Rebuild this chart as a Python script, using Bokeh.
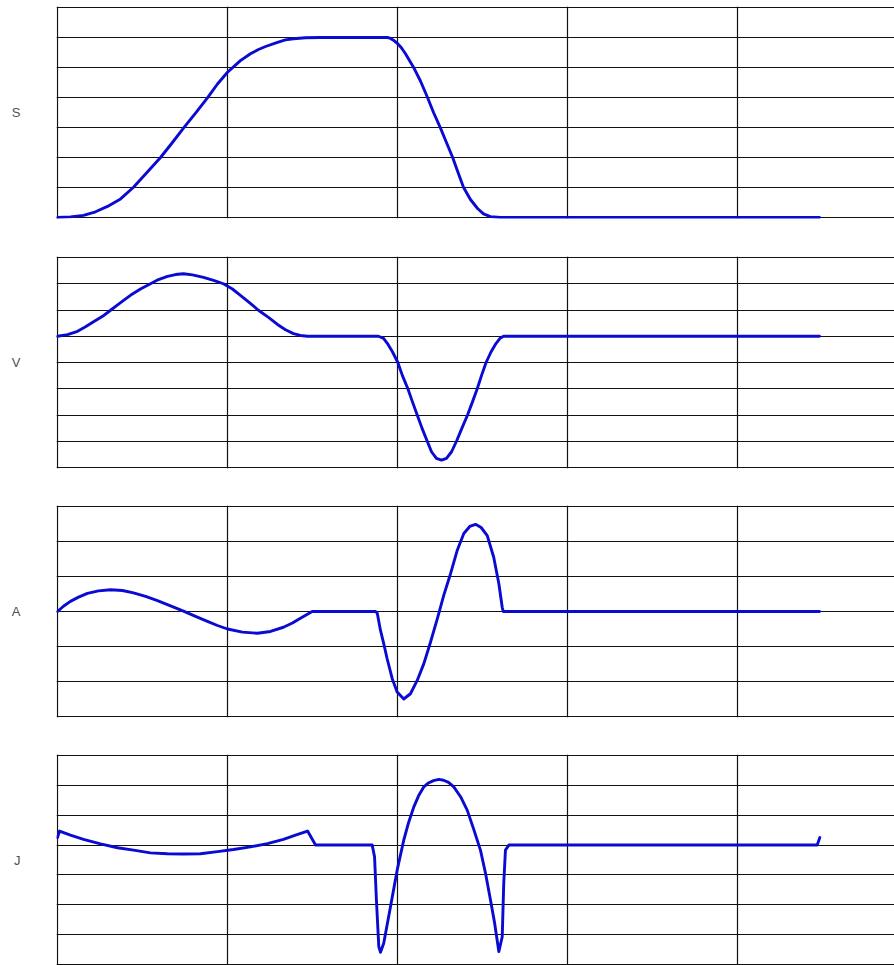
from bokeh.plotting import figure
from bokeh.layouts import column
from bokeh.models import FixedTicker, CustomJSTickFormatter
from bokeh.embed import file_html
from bokeh.resources import INLINE

# time in grid divisions (one vertical grid cell = 1)
s_t = [0.000, 0.076, 0.153, 0.224, 0.294, 0.371, 0.447, 0.518, 0.606, 0.676, 0.741, 0.812, 0.882,
       0.941, 1.000, 1.076, 1.135, 1.182, 1.224, 1.294, 1.341, 1.388, 1.459, 1.547, 1.941, 1.959,
       1.976, 2.000, 2.024, 2.047, 2.094, 2.135, 2.176, 2.212, 2.253, 2.288, 2.324, 2.353, 2.388,
       2.429, 2.471, 2.506, 2.547, 2.606, 4.482]
s_val = [0.0, 0.02, 0.07, 0.19, 0.37, 0.62, 1.01, 1.45, 2.0, 2.5, 2.98, 3.48, 3.99,
         4.45, 4.84, 5.23, 5.46, 5.6, 5.7, 5.84, 5.92, 5.96, 5.99, 6.0, 6.0, 5.97,
         5.91, 5.8, 5.65, 5.46, 5.01, 4.55, 4.01, 3.5, 2.98, 2.5, 2.01, 1.55, 1.01,
         0.6, 0.3, 0.12, 0.03, 0.0, 0.0]

v_t = [0.000, 0.059, 0.118, 0.165, 0.212, 0.265, 0.312, 0.371, 0.429, 0.488, 0.547, 0.594, 0.647,
       0.694, 0.741, 0.794, 0.859, 0.918, 0.976, 1.029, 1.076, 1.129, 1.182, 1.241, 1.294, 1.341,
       1.388, 1.429, 1.471, 1.888, 1.918, 1.941, 1.971, 2.002, 2.029, 2.061, 2.088, 2.116, 2.144,
       2.175, 2.200, 2.229, 2.259, 2.288, 2.318, 2.347, 2.379, 2.412, 2.441, 2.469, 2.494, 2.521,
       2.550, 2.579, 2.603, 2.624, 4.482]
v_val = [0.0, 0.06, 0.19, 0.36, 0.55, 0.76, 0.99, 1.28, 1.56, 1.8, 2.0, 2.16, 2.28,
         2.35, 2.38, 2.34, 2.24, 2.13, 2.0, 1.8, 1.56, 1.28, 0.99, 0.72, 0.45, 0.25,
         0.1, 0.03, 0.0, 0.0, -0.08, -0.28, -0.6, -1.0, -1.5, -2.0, -2.5, -3.0, -3.5,
         -4.0, -4.4, -4.65, -4.72, -4.65, -4.4, -4.0, -3.5, -3.0, -2.5, -2.0, -1.5, -1.0,
         -0.6, -0.28, -0.08, 0.0, 0.0]

a_t = [0.000, 0.035, 0.076, 0.124, 0.176, 0.241, 0.312, 0.382, 0.447, 0.518, 0.588, 0.665, 0.741,
       0.812, 0.882, 0.941, 1.000, 1.088, 1.176, 1.253, 1.329, 1.382, 1.429, 1.465, 1.498, 1.871,
       1.881, 1.900, 1.919, 1.939, 1.969, 1.998, 2.037, 2.076, 2.116, 2.155, 2.194, 2.234, 2.272,
       2.312, 2.351, 2.390, 2.425, 2.459, 2.492, 2.528, 2.566, 2.596, 2.616, 2.622, 4.482]
a_val = [0.0, 0.15, 0.29, 0.41, 0.52, 0.59, 0.62, 0.6, 0.53, 0.43, 0.31, 0.16, 0.01,
         -0.14, -0.28, -0.4, -0.5, -0.59, -0.62, -0.57, -0.45, -0.33, -0.19, -0.09, 0.0, 0.0,
         -0.05, -0.54, -0.92, -1.35, -1.92, -2.3, -2.5, -2.35, -1.97, -1.49, -0.88, -0.21, 0.46,
         1.08, 1.74, 2.23, 2.43, 2.49, 2.4, 2.17, 1.55, 0.8, 0.12, 0.0, 0.0]

j_t = [0.000, 0.012, 0.076, 0.153, 0.253, 0.353, 0.447, 0.547, 0.647, 0.741, 0.841, 0.941, 1.035,
       1.135, 1.235, 1.329, 1.400, 1.471, 1.518, 1.851, 1.865, 1.876, 1.890, 1.900, 1.919, 1.959,
       1.998, 2.037, 2.065, 2.096, 2.124, 2.155, 2.182, 2.212, 2.243, 2.271, 2.300, 2.331, 2.371,
       2.410, 2.447, 2.488, 2.518, 2.547, 2.571, 2.596, 2.616, 2.625, 2.635, 2.655, 4.469, 4.484]
j_val = [0.25, 0.47, 0.33, 0.19, 0.04, -0.09, -0.17, -0.26, -0.29, -0.30, -0.29, -0.22, -0.15,
         -0.06, 0.05, 0.19, 0.33, 0.47, 0.0, 0.0, -0.39, -1.84, -3.4, -3.59, -3.29, -2.06,
         -0.84, 0.17, 0.75, 1.28, 1.65, 1.95, 2.08, 2.16, 2.2, 2.17, 2.1, 1.95, 1.62,
         1.17, 0.55, -0.17, -0.95, -1.84, -2.6, -3.57, -3.07, -1.28, -0.17, 0.0, 0.0, 0.25]

names = ["S", "V", "A", "J"]
y_lims = [(0, 7), (-5, 3), (-3, 3), (-4, 3)]
x_divisions = [0, 1, 2, 3, 4]

# layout (pixels): inner grid height, top border, bottom border for each panel
inner_heights = [210, 210, 210, 209]
top_borders = [6, 0, 0, 0]
bottom_borders = [38, 37, 37, 0]

CELL_W = 170.0
FRAME_LEFT = 56
FIG_W = 894


def make_panel(name, t, vals, lims, inner_h, top_b, bot_b):
    ymin, ymax = lims
    eps_y = (ymax - ymin) / inner_h          # one pixel in data units
    eps_x = 1.0 / CELL_W
    frame_h = inner_h + 2
    x_end = -eps_x + (FIG_W - FRAME_LEFT) / CELL_W
    p = figure(width=FIG_W, height=frame_h + top_b + bot_b, title=None,
               x_range=(-eps_x, x_end), y_range=(ymin - eps_y, ymax + eps_y),
               output_backend="svg", toolbar_location=None,
               min_border_left=FRAME_LEFT, min_border_right=0, min_border_top=top_b,
               min_border_bottom=bot_b, outline_line_color=None,
               background_fill_color="white", border_fill_color="white")
    p.xaxis.visible = False
    ax = p.yaxis[0]
    ax.ticker = FixedTicker(ticks=[(ymin + ymax) / 2])
    ax.formatter = CustomJSTickFormatter(code="return '%s';" % name)
    ax.axis_line_color = None
    ax.major_tick_line_color = None
    ax.minor_tick_line_color = None
    ax.major_tick_out = 0
    ax.major_tick_in = 0
    ax.minor_tick_out = 0
    ax.major_label_standoff = 36
    ax.major_label_text_font = "Liberation Sans"
    ax.major_label_text_font_size = "13px"
    ax.major_label_text_color = "#505050"
    p.xgrid.ticker = FixedTicker(ticks=x_divisions)
    p.ygrid.ticker = FixedTicker(ticks=list(range(ymin, ymax + 1)))
    p.grid.grid_line_color = "#111111"
    p.grid.grid_line_width = 1.2
    p.grid.grid_line_alpha = 1
    p.line(t, vals, line_color="#0a0ad2", line_width=2.9, line_join="round", line_cap="round")
    return p


series = [(s_t, s_val), (v_t, v_val), (a_t, a_val), (j_t, j_val)]
panels = []
for nm, (tt, vv), lims, ih, tb, bb in zip(names, series, y_lims, inner_heights, top_borders, bottom_borders):
    panels.append(make_panel(nm, tt, vv, lims, ih, tb, bb))

layout = column(*panels, spacing=0)
open("out.html", "w").write(file_html(layout, INLINE))
